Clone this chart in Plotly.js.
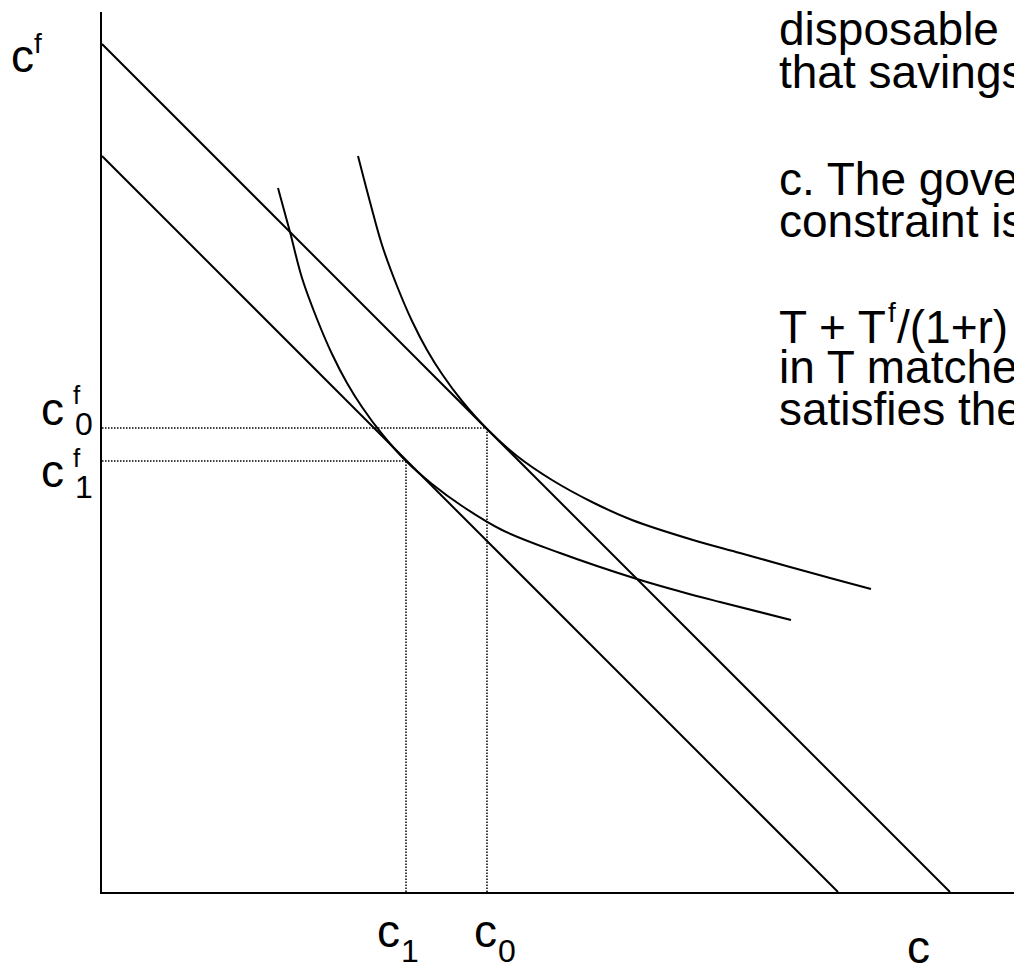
<!DOCTYPE html>
<html>
<head>
<meta charset="utf-8">
<script src="https://cdn.plot.ly/plotly-3.0.1.min.js"></script>
<style>html,body{margin:0;padding:0;background:#fff;}#chart{width:1014px;height:964px;}</style>
</head>
<body>
<div id="chart"></div>
<script>
// Budget lines (c, c^f)
var budget0X = [0, 848];
var budget0Y = [848, 0];
var budget1X = [0, 736];
var budget1Y = [736, 0];

// Indifference curve tangent to the higher budget line
var curve0X = [256, 268, 280, 295, 310, 325, 340, 360, 385, 415, 450, 490, 530, 591, 638, 688, 728, 769];
var curve0Y = [736, 690, 647, 606, 571, 542, 518, 491, 463, 436, 412, 390, 372, 352, 339, 325, 314, 303];

// Indifference curve tangent to the lower budget line
var curve1X = [176, 188, 200, 215, 230, 245, 260, 280, 304, 330, 360, 400, 458, 535, 580, 618, 689];
var curve1Y = [704, 660, 614, 573, 538, 509, 485, 458, 431, 408, 386, 362, 339, 313, 300, 290, 272];

// Tangency points
var point0 = {c: 385, cf: 464};
var point1 = {c: 304, cf: 431};

// Text block (cut off at right edge in the original)
var textLines = ["disposable", "that savings", "c. The gove", "constraint is", "", "in T matche", "satisfies the"];
var formulaParts = ["T + T", "f", "/(1+r)"];

var FONT = "Liberation Sans, Arial, sans-serif";
var black = "#000000";

// plot area in page pixels
var L = 102, R = 1014, T = 12, B = 892;

function seg(x, y, dash, w) {
  return {x: x, y: y, type: "scatter", mode: "lines", hoverinfo: "skip",
    line: {color: black, width: w, dash: dash}, showlegend: false};
}

var traces = [
  seg([0, point0.c], [point0.cf, point0.cf], "1.5px,1.5px", 1.5),
  seg([point0.c, point0.c], [0, point0.cf], "1.5px,1.5px", 1.5),
  seg([0, point1.c], [point1.cf, point1.cf], "1.5px,1.5px", 1.5),
  seg([point1.c, point1.c], [0, point1.cf], "1.5px,1.5px", 1.5),
  seg(budget0X, budget0Y, "solid", 2),
  seg(budget1X, budget1Y, "solid", 2),
  {x: curve0X, y: curve0Y, type: "scatter", mode: "lines", hoverinfo: "skip", showlegend: false,
    line: {color: black, width: 2, shape: "spline", smoothing: 1}},
  {x: curve1X, y: curve1Y, type: "scatter", mode: "lines", hoverinfo: "skip", showlegend: false,
    line: {color: black, width: 2, shape: "spline", smoothing: 1}}
];

// annotation placed by page pixel (left edge, vertical centre)
function ann(text, px, py, size) {
  return {text: text, x: (px - L) / (R - L), y: (B - py) / (B - T), xref: "paper", yref: "paper",
    showarrow: false, xanchor: "left", yanchor: "middle",
    font: {family: FONT, size: size, color: black}};
}

var annotations = [
  ann("c", 9, 55.5, 46),
  ann("f", 32, 43, 28),
  ann("c", 39, 408.5, 46),
  ann("f", 71, 395, 26),
  ann("0", 73, 423.5, 32),
  ann("c", 39, 470.5, 46),
  ann("f", 71, 458, 26),
  ann("1", 73, 486.5, 32),
  ann("c", 375, 930.5, 46),
  ann("1", 399, 950.5, 32),
  ann("c", 472, 930.5, 46),
  ann("0", 496, 950.5, 32),
  ann("c", 905, 946.5, 46)
];
var textCenters = [28.5, 71.5, 178.5, 220.5, 326.5, 366.5, 409.5];
for (var i = 0; i < textLines.length; i++) {
  if (textLines[i]) annotations.push(ann(textLines[i], 777, textCenters[i], 46));
}
annotations.push(ann(formulaParts[0], 777, textCenters[4], 46));
annotations.push(ann(formulaParts[1], 886, 312, 28));
annotations.push(ann(formulaParts[2], 895, textCenters[4], 46));

var layout = {
  width: 1014, height: 964,
  margin: {l: L, r: 1014 - R, t: T, b: 964 - B, pad: 0},
  paper_bgcolor: "#ffffff", plot_bgcolor: "#ffffff",
  showlegend: false,
  font: {family: FONT, color: black},
  xaxis: {range: [0, R - L], showgrid: false, zeroline: false, showticklabels: false, ticks: "",
    showline: true, linecolor: black, linewidth: 2, fixedrange: true},
  yaxis: {range: [0, B - T], showgrid: false, zeroline: false, showticklabels: false, ticks: "",
    showline: true, linecolor: black, linewidth: 2, fixedrange: true},
  annotations: annotations
};

Plotly.newPlot("chart", traces, layout, {staticPlot: true, displayModeBar: false});
</script>
</body>
</html>
